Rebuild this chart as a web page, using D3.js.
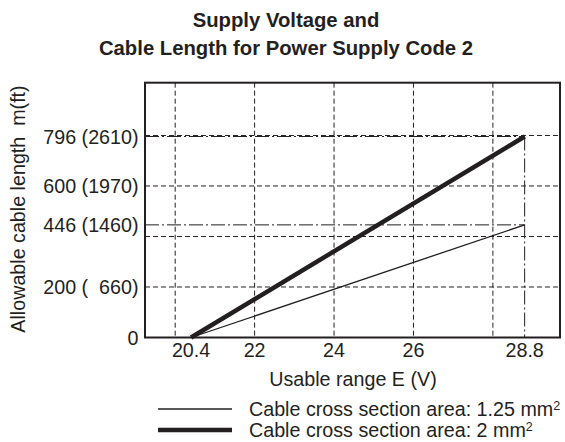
<!DOCTYPE html>
<html lang="en">
<head>
	<meta charset="utf-8">
	<title>Supply Voltage and Cable Length</title>
	<script src="https://d3js.org/d3.v7.min.js"></script>
	<style>
		body { margin: 0; background: #fff; }
		text { font-family: "Liberation Sans", Arial, Helvetica, sans-serif; fill: #231f20; }
	</style>
</head>
<body>

<script type="text/javascript">

// chart data
var voltageTicks = [20.4, 22, 24, 26, 28.8];
var voltageGrid = [20, 22, 24, 26, 28];
var lengthGrid = [200, 400, 600, 800];
var lengthTicks = [0, 200, 446, 600, 796];
var lengthTickLabels = ["0", "200 (  660)", "446 (1460)", "600 (1970)", "796 (2610)"];

var seriesNames = ["Cable cross section area: 1.25 mm", "Cable cross section area: 2 mm"];
var seriesVoltage = [20.4, 28.8];
var thinCableLength = [0, 446];   // 1.25 mm2
var thickCableLength = [0, 796];  // 2 mm2

var W = 565, H = 442;
var ink = "#231f20";
var fontSize = "19.7px";

var svg = d3.select("body").append("svg")
      .attr("width", W)
      .attr("height", H);

var x = d3.scaleLinear().domain([19.24, 29.69]).range([145, 560]);
var y = d3.scaleLinear().domain([0, 1009]).range([337.5, 82.7]);

// title
svg.append("text")
   .attr("x", 286).attr("y", 26.5)
   .attr("text-anchor", "middle")
   .style("font-size", "20.3px").style("font-weight", "bold")
   .text("Supply Voltage and");

svg.append("text")
   .attr("x", 286).attr("y", 55)
   .attr("text-anchor", "middle")
   .style("font-size", "20.3px").style("font-weight", "bold")
   .text("Cable Length for Power Supply Code 2");

// dashed grid
svg.append("g").selectAll("line.vgrid")
   .data(voltageGrid)
   .enter()
   .append("line")
   .attr("x1", function(d) { return x(d); })
   .attr("x2", function(d) { return x(d); })
   .attr("y1", y.range()[1])
   .attr("y2", y.range()[0])
   .attr("stroke", ink)
   .attr("stroke-width", 1)
   .attr("stroke-dasharray", "5,3");

svg.append("g").selectAll("line.hgrid")
   .data(lengthGrid)
   .enter()
   .append("line")
   .attr("x1", x.range()[0])
   .attr("x2", x.range()[1])
   .attr("y1", function(d) { return y(d); })
   .attr("y2", function(d) { return y(d); })
   .attr("stroke", ink)
   .attr("stroke-width", 1)
   .attr("stroke-dasharray", "5,3");

// dash-dot guides to the line ends
var ends = [thinCableLength[1], thickCableLength[1]];
var vmax = seriesVoltage[1];

svg.append("g").selectAll("line.guide")
   .data(ends)
   .enter()
   .append("line")
   .attr("x1", x.range()[0])
   .attr("x2", x(vmax))
   .attr("y1", function(d) { return y(d); })
   .attr("y2", function(d) { return y(d); })
   .attr("stroke", ink)
   .attr("stroke-width", 1)
   .attr("stroke-dasharray", "14,3,2,3");

svg.append("line")
   .attr("x1", x(vmax)).attr("x2", x(vmax))
   .attr("y1", y(d3.max(ends))).attr("y2", y(0))
   .attr("stroke", ink)
   .attr("stroke-width", 1)
   .attr("stroke-dasharray", "14,3,2,3");

// cable lines
var line = d3.line()
      .x(function(d) { return x(d[0]); })
      .y(function(d) { return y(d[1]); });

svg.append("path")
   .attr("d", line(d3.zip(seriesVoltage, thinCableLength)))
   .attr("fill", "none")
   .attr("stroke", ink)
   .attr("stroke-width", 1.3);

svg.append("path")
   .attr("d", line(d3.zip(seriesVoltage, thickCableLength)))
   .attr("fill", "none")
   .attr("stroke", ink)
   .attr("stroke-width", 4.5);

// frame
svg.append("rect")
   .attr("x", x.range()[0]).attr("y", y.range()[1])
   .attr("width", x.range()[1] - x.range()[0])
   .attr("height", y.range()[0] - y.range()[1])
   .attr("fill", "none")
   .attr("stroke", ink)
   .attr("stroke-width", 2);

// axis labels
svg.append("g").selectAll("text.xtick")
   .data(voltageTicks)
   .enter()
   .append("text")
   .attr("x", function(d) { return x(d); })
   .attr("y", 357)
   .attr("text-anchor", "middle")
   .style("font-size", fontSize)
   .text(function(d) { return d; });

svg.append("g").selectAll("text.ytick")
   .data(lengthTicks)
   .enter()
   .append("text")
   .attr("x", 138.5)
   .attr("y", function(d) { return y(d); })
   .attr("dy", "0.36em")
   .attr("text-anchor", "end")
   .style("font-size", fontSize)
   .style("white-space", "pre")
   .text(function(d, i) { return lengthTickLabels[i]; });

svg.append("text")
   .attr("x", 353).attr("y", 386)
   .attr("text-anchor", "middle")
   .style("font-size", fontSize)
   .text("Usable range E (V)");

svg.append("text")
   .attr("transform", "translate(25,209) rotate(-90)")
   .attr("text-anchor", "middle")
   .style("font-size", fontSize)
   .style("white-space", "pre")
   .text("Allowable cable length  m(ft)");

// legend
var legendY = [409, 430];
var legendW = [1.3, 4.5];

var legend = svg.append("g").selectAll("g.legend")
      .data(seriesNames)
      .enter()
      .append("g");

legend.append("line")
   .attr("x1", 158).attr("x2", 232)
   .attr("y1", function(d, i) { return legendY[i]; })
   .attr("y2", function(d, i) { return legendY[i]; })
   .attr("stroke", ink)
   .attr("stroke-width", function(d, i) { return legendW[i]; });

var legendText = legend.append("text")
   .attr("x", 249)
   .attr("y", function(d, i) { return legendY[i] + 6.5; })
   .style("font-size", fontSize);

legendText.append("tspan").text(function(d) { return d; });
legendText.append("tspan")
   .attr("dy", -6)
   .style("font-size", "12.5px")
   .text("2");

</script>
</body>
</html>
